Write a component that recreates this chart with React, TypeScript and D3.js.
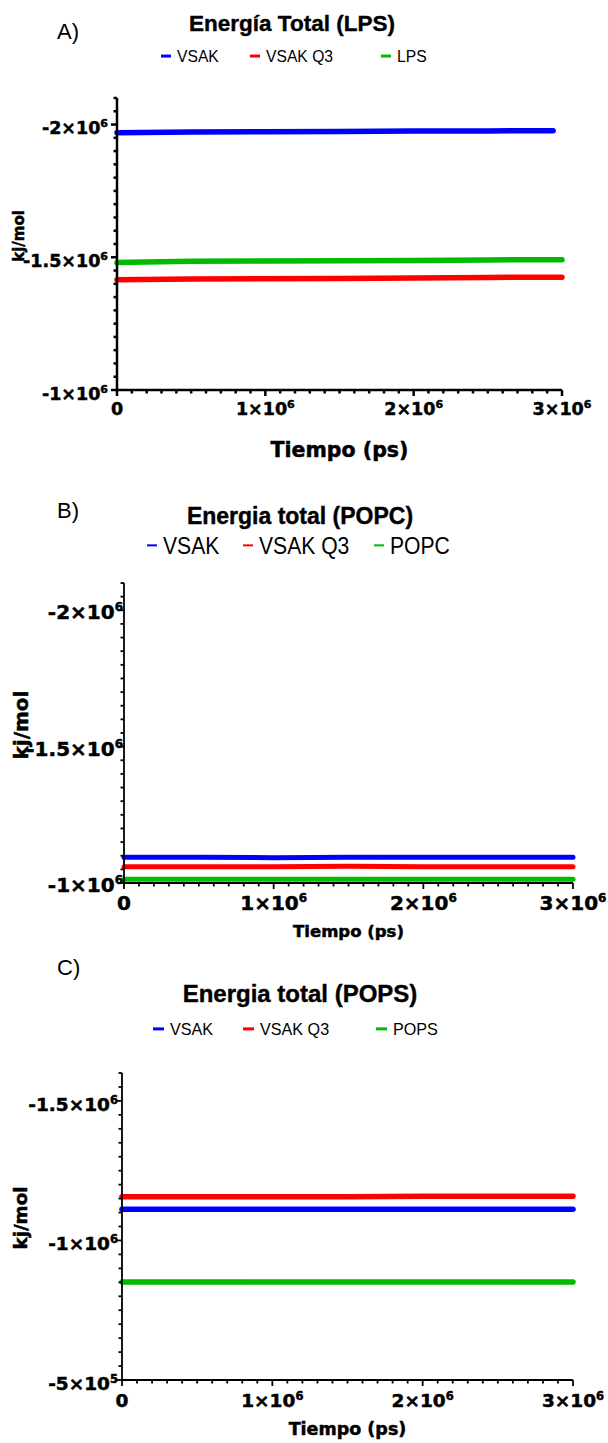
import React from 'react';
import * as d3 from 'd3';

// tiempo (ps) sampled along each trace
const timePs = [0, 0.5e6, 1e6, 1.5e6, 2e6, 2.5e6, 3e6];
const timeVsakLps = [0, 0.5e6, 1e6, 1.5e6, 2e6, 2.5e6, 2.94e6];
const xTicks = [0, 1e6, 2e6, 3e6];

// A) LPS
const lpsNames = ['VSAK', 'VSAK Q3', 'LPS'];
const lpsVsak = [-1.969e6, -1.972e6, -1.973e6, -1.974e6, -1.976e6, -1.976e6, -1.977e6];
const lpsVsakQ3 = [-1.415e6, -1.418e6, -1.419e6, -1.42e6, -1.422e6, -1.424e6, -1.425e6];
const lpsLps = [-1.48e6, -1.485e6, -1.486e6, -1.487e6, -1.488e6, -1.49e6, -1.491e6];
const lpsYTicks = [-2e6, -1.5e6, -1e6];

// B) POPC
const popcNames = ['VSAK', 'VSAK Q3', 'POPC'];
const popcVsak = [-1.094e6, -1.094e6, -1.093e6, -1.094e6, -1.094e6, -1.094e6, -1.094e6];
const popcVsakQ3 = [-1.06e6, -1.06e6, -1.06e6, -1.061e6, -1.06e6, -1.06e6, -1.06e6];
const popcPopc = [-1.014e6, -1.014e6, -1.014e6, -1.014e6, -1.014e6, -1.014e6, -1.014e6];
const popcYTicks = [-2e6, -1.5e6, -1e6];

// C) POPS
const popsNames = ['VSAK', 'VSAK Q3', 'POPS'];
const popsVsak = [-1.112e6, -1.112e6, -1.112e6, -1.112e6, -1.112e6, -1.112e6, -1.112e6];
const popsVsakQ3 = [-1.157e6, -1.157e6, -1.157e6, -1.157e6, -1.158e6, -1.158e6, -1.158e6];
const popsPops = [-0.851e6, -0.851e6, -0.851e6, -0.851e6, -0.851e6, -0.851e6, -0.851e6];
const popsYTicks = [-1.5e6, -1e6, -0.5e6];

const colors = ['#0000ff', '#ff0000', '#00bb00'];
const AX = 'DejaVu Sans, sans-serif';
const TT = 'Liberation Sans, Arial, sans-serif';
const heavy = { stroke: '#000', strokeWidth: 0.5 };

function sci(v: number) {
  if (v === 0) return { m: '0', e: '' };
  const e = Math.floor(Math.log10(Math.abs(v)) + 1e-9);
  const m = +(v / Math.pow(10, e)).toFixed(2);
  return { m: `${m}×10`, e: `${e}` };
}

type Series = { t: number[]; v: number[] };

type Cfg = {
  letter: string; letterY: number;
  title: string; titleSize: number; titleX: number; titleY: number;
  names: string[]; legendY: number; legendSize: number; legendScale: number;
  swatchX: number[]; swatchW: number; swatchH: number; textGap: number;
  series: Series[];
  yDomain: [number, number]; yTicks: number[]; yTop: number; yBot: number;
  x0: number; x1: number;
  tickSize: number; supSize: number; supDy: number; yLabGap: number; yLabDy: number;
  xLabY: number; yTitleSize: number; yTitleX: number; yTitleY: number;
  xTitleSize: number; xTitleY: number;
  axisW: number; lineW: number;
};

function Panel({ c }: { c: Cfg }) {
  const x = d3.scaleLinear().domain([0, 3e6]).range([c.x0, c.x1]);
  const y = d3.scaleLinear().domain(c.yDomain).range([c.yBot, c.yTop]);
  const line = d3.line<[number, number]>().x((d) => x(d[0])).y((d) => y(d[1]));
  const yMinor = d3.range(0, 23).map((i) => c.yDomain[0] - i * 0.05e6).filter((v) => v >= c.yDomain[1] - 1);
  const xMinor = d3.range(0, 31).map((i) => i * 0.1e6);
  return (
    <g>
      <text x={57} y={c.letterY} fontFamily={TT} fontSize={22}>{c.letter}</text>
      <text x={c.titleX} y={c.titleY} textAnchor="middle" fontFamily={TT} fontWeight="bold" fontSize={c.titleSize} {...heavy} strokeWidth={0.4}>{c.title}</text>
      {c.names.map((n, i) => (
        <g key={n}>
          <rect x={c.swatchX[i]} y={c.legendY - c.legendSize * 0.36 - c.swatchH / 2} width={c.swatchW} height={c.swatchH} fill={colors[i]} />
          <text transform={`translate(${c.swatchX[i] + c.swatchW + c.textGap},${c.legendY}) scale(${c.legendScale},1)`} fontFamily={TT} fontSize={c.legendSize}>{n}</text>
        </g>
      ))}
      {c.series.map((s, i) => (
        <path key={i} d={line(s.t.map((t, j) => [t, s.v[j]] as [number, number])) || ''} fill="none" stroke={colors[i]} strokeWidth={c.lineW} strokeLinecap="round" />
      ))}
      {/* y axis */}
      <line x1={c.x0} x2={c.x0} y1={c.yTop} y2={c.yBot + c.axisW / 2} stroke="#000" strokeWidth={c.axisW} />
      {yMinor.map((v, i) => (
        <line key={i} x1={c.x0} x2={c.x0 - (c.yTicks.some((t) => Math.abs(t - v) < 1) ? 6 : 3.5)} y1={y(v)} y2={y(v)} stroke="#000" strokeWidth={c.axisW} />
      ))}
      {c.yTicks.map((v) => {
        const s = sci(v);
        return (
          <text key={v} x={c.x0 - c.yLabGap} y={y(v) + c.yLabDy} textAnchor="end" fontFamily={AX} fontWeight="bold" fontSize={c.tickSize} {...heavy}>
            {s.m}<tspan fontSize={c.supSize} dy={c.supDy}>{s.e}</tspan>
          </text>
        );
      })}
      {/* x axis */}
      <line x1={c.x0 - c.axisW / 2} x2={c.x1} y1={c.yBot} y2={c.yBot} stroke="#000" strokeWidth={c.axisW} />
      {xMinor.map((v, i) => (
        <line key={i} x1={x(v)} x2={x(v)} y1={c.yBot} y2={c.yBot + (xTicks.includes(v) ? 6 : 3.5)} stroke="#000" strokeWidth={c.axisW} />
      ))}
      {xTicks.map((v) => {
        const s = sci(v);
        return (
          <text key={v} x={x(v)} y={c.xLabY} textAnchor="middle" fontFamily={AX} fontWeight="bold" fontSize={c.tickSize} {...heavy}>
            {s.m}{s.e && <tspan fontSize={c.supSize} dy={c.supDy}>{s.e}</tspan>}
          </text>
        );
      })}
      <text transform={`translate(${c.yTitleX},${c.yTitleY}) rotate(-90)`} textAnchor="middle" fontFamily={AX} fontWeight="bold" fontSize={c.yTitleSize} {...heavy}>kj/mol</text>
      <text x={(c.x0 + c.x1) / 2} y={c.xTitleY} textAnchor="middle" fontFamily={AX} fontWeight="bold" fontSize={c.xTitleSize} {...heavy}>Tiempo (ps)</text>
    </g>
  );
}

const panels: Cfg[] = [
  {
    letter: 'A)', letterY: 39, title: 'Energía Total (LPS)', titleSize: 22.5, titleX: 292, titleY: 31,
    names: lpsNames, legendY: 62, legendSize: 16.5, legendScale: 0.95, swatchX: [161, 250, 381], swatchW: 10, swatchH: 3, textGap: 6,
    series: [{ t: timeVsakLps, v: lpsVsak }, { t: timePs, v: lpsVsakQ3 }, { t: timePs, v: lpsLps }],
    yDomain: [-1e6, -2.1e6], yTicks: lpsYTicks, yTop: 98, yBot: 390, x0: 117, x1: 562,
    tickSize: 17.5, supSize: 11, supDy: -7, yLabGap: 9, yLabDy: 9.5, xLabY: 415,
    yTitleSize: 15, yTitleX: 24, yTitleY: 236, xTitleSize: 20.5, xTitleY: 457, axisW: 2.5, lineW: 5.5,
  },
  {
    letter: 'B)', letterY: 518, title: 'Energia total (POPC)', titleSize: 23, titleX: 300, titleY: 524,
    names: popcNames, legendY: 554, legendSize: 24, legendScale: 0.88, swatchX: [147, 243, 374], swatchW: 10, swatchH: 2, textGap: 6,
    series: [{ t: timePs, v: popcVsak }, { t: timePs, v: popcVsakQ3 }, { t: timePs, v: popcPopc }],
    yDomain: [-1e6, -2.1e6], yTicks: popcYTicks, yTop: 583, yBot: 883, x0: 124, x1: 573,
    tickSize: 20, supSize: 12, supDy: -8, yLabGap: 1, yLabDy: 9, xLabY: 910,
    yTitleSize: 20, yTitleX: 28, yTitleY: 725, xTitleSize: 16.5, xTitleY: 937, axisW: 1.8, lineW: 5,
  },
  {
    letter: 'C)', letterY: 975, title: 'Energia total (POPS)', titleSize: 24, titleX: 300, titleY: 1002,
    names: popsNames, legendY: 1035, legendSize: 17, legendScale: 0.95, swatchX: [153, 243, 376], swatchW: 11, swatchH: 3, textGap: 6,
    series: [{ t: timePs, v: popsVsak }, { t: timePs, v: popsVsakQ3 }, { t: timePs, v: popsPops }],
    yDomain: [-0.5e6, -1.6e6], yTicks: popsYTicks, yTop: 1073, yBot: 1380, x0: 122, x1: 573,
    tickSize: 18.5, supSize: 11.5, supDy: -7, yLabGap: 4, yLabDy: 10, xLabY: 1407,
    yTitleSize: 18.3, yTitleX: 27, yTitleY: 1218, xTitleSize: 17.5, xTitleY: 1435, axisW: 1.8, lineW: 5.5,
  },
];

export default function App() {
  return (
    <svg width={608} height={1443} style={{ position: 'absolute', left: 0, top: 0, background: '#fff' }}>
      <rect width={608} height={1443} fill="#fff" />
      {panels.map((p) => <Panel key={p.letter} c={p} />)}
    </svg>
  );
}
